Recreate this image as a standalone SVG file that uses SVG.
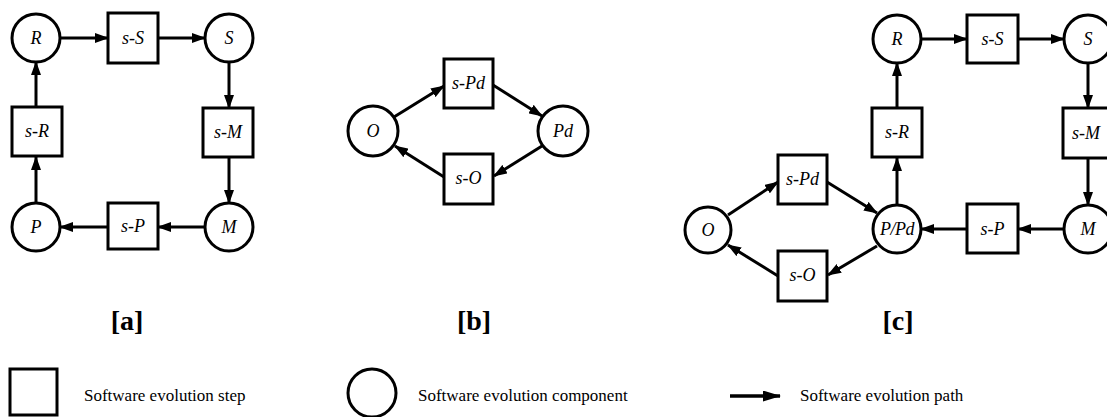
<svg xmlns="http://www.w3.org/2000/svg" width="1107" height="417" viewBox="0 0 1107 417">
<defs>
<style>
.box{fill:#fff;stroke:#000;stroke-width:3}
.cir{fill:#fff;stroke:#000;stroke-width:3}
.lbl{font-family:"Liberation Serif",serif;font-style:italic;font-size:18px;text-anchor:middle;fill:#000}
.edge{stroke:#000;stroke-width:3;fill:none;marker-end:url(#ah)}
.cap{font-family:"Liberation Serif",serif;font-weight:bold;font-size:28px;text-anchor:middle;fill:#000}
.leg{font-family:"Liberation Serif",serif;font-size:17px;fill:#000}
</style>
<marker id="ah" markerUnits="userSpaceOnUse" markerWidth="14" markerHeight="10" refX="13" refY="5" orient="auto">
<path d="M0,0 L14,5 L0,10 Z" fill="#000"/>
</marker>
<marker id="ahL" markerUnits="userSpaceOnUse" markerWidth="18" markerHeight="11" refX="17" refY="5.5" orient="auto">
<path d="M0,0 L18,5.5 L0,11 Z" fill="#000"/>
</marker>
</defs>
<rect width="1107" height="417" fill="#fff"/>

<g id="connectors">
<!-- panel a -->
<line class="edge" x1="60" y1="38" x2="108" y2="38"/>
<line class="edge" x1="158" y1="38" x2="205" y2="38"/>
<line class="edge" x1="229" y1="62" x2="229" y2="108"/>
<line class="edge" x1="229" y1="157" x2="229" y2="203"/>
<line class="edge" x1="205" y1="227" x2="158" y2="227"/>
<line class="edge" x1="108" y1="227" x2="60" y2="227"/>
<line class="edge" x1="36" y1="203" x2="36" y2="157"/>
<line class="edge" x1="36" y1="107" x2="36" y2="62"/>
<!-- panel b -->
<line class="edge" x1="394" y1="117" x2="444" y2="86"/>
<line class="edge" x1="493" y1="85" x2="542" y2="116"/>
<line class="edge" x1="542" y1="146" x2="494" y2="176"/>
<line class="edge" x1="444" y1="177" x2="395" y2="146"/>
<!-- panel c -->
<line class="edge" x1="728" y1="215" x2="778" y2="182"/>
<line class="edge" x1="827" y1="182" x2="877" y2="213"/>
<line class="edge" x1="877" y1="246" x2="828" y2="275"/>
<line class="edge" x1="778" y1="276" x2="728" y2="245"/>
<line class="edge" x1="897" y1="205" x2="897" y2="158"/>
<line class="edge" x1="897" y1="108" x2="897" y2="63"/>
<line class="edge" x1="921" y1="39" x2="967" y2="39"/>
<line class="edge" x1="1018" y1="39" x2="1064" y2="39"/>
<line class="edge" x1="1088" y1="63" x2="1088" y2="108"/>
<line class="edge" x1="1088" y1="158" x2="1088" y2="205"/>
<line class="edge" x1="1064" y1="229" x2="1018" y2="229"/>
<line class="edge" x1="967" y1="229" x2="921" y2="229"/>
</g>

<!-- panel a nodes -->
<g id="a-R"><circle class="cir" cx="36" cy="38" r="24"/><text class="lbl" x="36" y="44">R</text></g>
<g id="a-sS"><rect class="box" x="108" y="13" width="50" height="50"/><text class="lbl" x="133" y="44">s-S</text></g>
<g id="a-S"><circle class="cir" cx="229" cy="38" r="24"/><text class="lbl" x="229" y="44">S</text></g>
<g id="a-sM"><rect class="box" x="203" y="108" width="50" height="49"/><text class="lbl" x="228" y="138">s-M</text></g>
<g id="a-M"><circle class="cir" cx="229" cy="227" r="24"/><text class="lbl" x="229" y="233">M</text></g>
<g id="a-sP"><rect class="box" x="108" y="203" width="50" height="46"/><text class="lbl" x="133" y="232">s-P</text></g>
<g id="a-P"><circle class="cir" cx="36" cy="227" r="24"/><text class="lbl" x="36" y="233">P</text></g>
<g id="a-sR"><rect class="box" x="12" y="107" width="50" height="49"/><text class="lbl" x="37" y="137">s-R</text></g>

<!-- panel b nodes -->
<g id="b-O"><circle class="cir" cx="373" cy="131" r="25"/><text class="lbl" x="373" y="137">O</text></g>
<g id="b-sPd"><rect class="box" x="444" y="59" width="49" height="49"/><text class="lbl" x="468.5" y="89">s-Pd</text></g>
<g id="b-Pd"><circle class="cir" cx="563" cy="131" r="25"/><text class="lbl" x="563" y="137">Pd</text></g>
<g id="b-sO"><rect class="box" x="444" y="154" width="49" height="50"/><text class="lbl" x="468.5" y="184">s-O</text></g>

<!-- panel c nodes -->
<g id="c-O"><circle class="cir" cx="708" cy="230" r="23"/><text class="lbl" x="708" y="236">O</text></g>
<g id="c-sPd"><rect class="box" x="778" y="155" width="49" height="49"/><text class="lbl" x="802.5" y="185">s-Pd</text></g>
<g id="c-sO"><rect class="box" x="778" y="251" width="49" height="50"/><text class="lbl" x="802.5" y="281">s-O</text></g>
<g id="c-PPd"><circle class="cir" cx="897" cy="229" r="24"/><text class="lbl" x="897" y="235" style="letter-spacing:-0.5px">P/Pd</text></g>
<g id="c-sR"><rect class="box" x="872" y="108" width="50" height="49"/><text class="lbl" x="897" y="138">s-R</text></g>
<g id="c-R"><circle class="cir" cx="897" cy="39" r="24"/><text class="lbl" x="897" y="45">R</text></g>
<g id="c-sS"><rect class="box" x="967" y="15" width="51" height="48"/><text class="lbl" x="992.5" y="45">s-S</text></g>
<g id="c-S"><circle class="cir" cx="1088" cy="39" r="24"/><text class="lbl" x="1088" y="45">S</text></g>
<g id="c-sM"><rect class="box" x="1063" y="108" width="50" height="50"/><text class="lbl" x="1086" y="139">s-M</text></g>
<g id="c-M"><circle class="cir" cx="1088" cy="229" r="24"/><text class="lbl" x="1088" y="235">M</text></g>
<g id="c-sP"><rect class="box" x="967" y="204" width="51" height="49"/><text class="lbl" x="992.5" y="235">s-P</text></g>

<!-- captions -->
<text class="cap" x="127" y="330">[a]</text>
<text class="cap" x="474" y="330">[b]</text>
<text class="cap" x="898" y="330">[c]</text>

<!-- legend -->
<g id="legend-step"><rect class="box" x="10" y="369" width="47" height="46"/><text class="leg" x="84" y="401">Software evolution step</text></g>
<g id="legend-component"><circle class="cir" cx="372" cy="393" r="24"/><text class="leg" x="418" y="401">Software evolution component</text></g>
<g id="legend-path"><line x1="730" y1="396" x2="780" y2="396" stroke="#000" stroke-width="3.5" marker-end="url(#ahL)"/><text class="leg" x="800" y="401">Software evolution path</text></g>
</svg>
